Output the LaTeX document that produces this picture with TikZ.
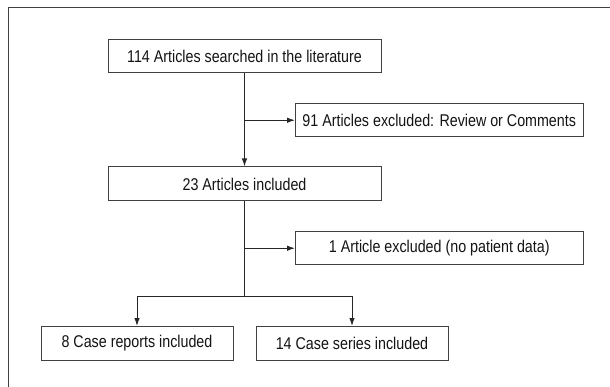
\documentclass[tikz,border=0pt]{standalone}
\usepackage{fontspec}
\setmainfont{Liberation Sans}[FakeStretch=0.84]
\usetikzlibrary{arrows.meta}
\begin{document}
\begin{tikzpicture}[x=1pt,y=-1pt,
  box/.style={draw=black!75,line width=1pt,fill=white,inner sep=0pt,text=black!92,
    font=\fontsize{17pt}{19pt}\selectfont},
  conn/.style={draw=black!85,line width=1pt},
  arr/.style={conn,-{Latex[length=8pt,width=5.5pt]}}]
\useasboundingbox (0,0) rectangle (610,387);
\draw[black!75,line width=1.5pt] (8.5,387) -- (8.5,7.5) -- (610,7.5);
\node[box,minimum width=273pt,minimum height=33pt] (b1) at (244.5,56.5) {114 Articles searched in the literature};
\node[box,minimum width=287.5pt,minimum height=33.5pt] (b2) at (439.25,120.25) {91 Articles excluded: Review or Comments};
\node[box,minimum width=273pt,minimum height=34pt] (b3) at (244.5,184) {23 Articles included};
\node[box,minimum width=287.5pt,minimum height=33.5pt] (b4) at (439.25,248.25) {1 Article excluded (no patient data)};
\node[box,minimum width=192pt,minimum height=33.5pt] (b5) at (137,343.25) {8 Case reports included};
\node[box,minimum width=192pt,minimum height=33.5pt] (b6) at (352,343.25) {14 Case series included};
\coordinate (j1) at (b1.south |- b2.west);
\coordinate (j2) at (b3.south |- b4.west);
\coordinate (s) at (244.5,296);
\draw[arr] (b1.south) -- (b3.north);
\draw[arr] (j1) -- (b2.west);
\draw[conn] (b3.south) -- (s);
\draw[arr] (j2) -- (b4.west);
\draw[arr] (s) -| (b5.north);
\draw[arr] (s) -| (b6.north);
\end{tikzpicture}
\end{document}
